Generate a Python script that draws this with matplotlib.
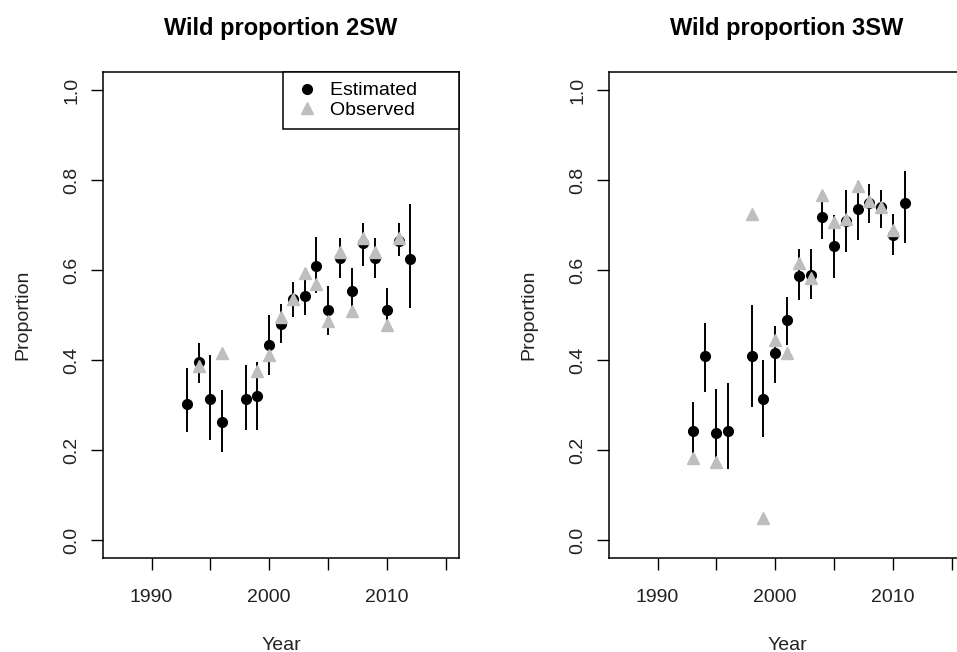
import numpy as np
import matplotlib.pyplot as plt
from matplotlib.lines import Line2D

plt.rcParams['font.family'] = ['Liberation Sans', 'DejaVu Sans']

# Wild proportion 2SW
years_2sw = [1993, 1994, 1995, 1996, 1998, 1999, 2000, 2001, 2002, 2003,
             2004, 2005, 2006, 2007, 2008, 2009, 2010, 2011, 2012]
est_2sw = [0.302, 0.395, 0.313, 0.263, 0.313, 0.319, 0.434, 0.481, 0.535, 0.542,
           0.609, 0.512, 0.627, 0.554, 0.661, 0.626, 0.512, 0.664, 0.624]
lo_2sw = [0.239, 0.349, 0.223, 0.195, 0.245, 0.245, 0.367, 0.438, 0.496, 0.499,
          0.549, 0.455, 0.583, 0.499, 0.610, 0.583, 0.464, 0.631, 0.516]
hi_2sw = [0.382, 0.437, 0.412, 0.334, 0.390, 0.395, 0.499, 0.525, 0.574, 0.601,
          0.674, 0.564, 0.672, 0.604, 0.705, 0.672, 0.560, 0.705, 0.747]
obs_years_2sw = [1994, 1996, 1999, 2000, 2001, 2002, 2003, 2004, 2005, 2006,
                 2007, 2008, 2009, 2010, 2011]
obs_2sw = [0.386, 0.416, 0.375, 0.412, 0.496, 0.535, 0.594, 0.568, 0.486, 0.640,
           0.508, 0.672, 0.639, 0.477, 0.672]

# Wild proportion 3SW
years_3sw = [1993, 1994, 1995, 1996, 1998, 1999, 2000, 2001, 2002, 2003,
             2004, 2005, 2006, 2007, 2008, 2009, 2010, 2011]
est_3sw = [0.243, 0.408, 0.238, 0.243, 0.408, 0.313, 0.416, 0.490, 0.587, 0.590,
           0.718, 0.653, 0.710, 0.735, 0.750, 0.739, 0.677, 0.750]
lo_3sw = [0.193, 0.330, 0.162, 0.157, 0.296, 0.230, 0.350, 0.434, 0.533, 0.536,
          0.670, 0.583, 0.639, 0.667, 0.705, 0.694, 0.633, 0.659]
hi_3sw = [0.306, 0.483, 0.336, 0.349, 0.523, 0.401, 0.475, 0.541, 0.647, 0.647,
          0.768, 0.722, 0.778, 0.798, 0.792, 0.778, 0.725, 0.820]
obs_years_3sw = [1993, 1995, 1998, 1999, 2000, 2001, 2002, 2003, 2004, 2005,
                 2006, 2007, 2008, 2009, 2010]
obs_3sw = [0.182, 0.174, 0.724, 0.048, 0.444, 0.416, 0.615, 0.583, 0.766, 0.707,
           0.713, 0.786, 0.753, 0.741, 0.689]

x_ticks = [1990, 1995, 2000, 2005, 2010, 2015]
x_labels = ["1990", "", "2000", "", "2010", ""]
y_ticks = [0.0, 0.2, 0.4, 0.6, 0.8, 1.0]
y_labels = ["0.0", "0.2", "0.4", "0.6", "0.8", "1.0"]
grey = "#bebebe"

W, H = 957, 652
fig = plt.figure(figsize=(W / 100, H / 100), dpi=100)
ax1 = fig.add_axes([103 / W, 1 - 558 / H, 356 / W, 486 / H])
ax2 = fig.add_axes([609 / W, 1 - 558 / H, 356 / W, 486 / H])


def panel(ax, title, yrs, est, lo, hi, oyrs, obs):
    ax.vlines(yrs, lo, hi, color="black", lw=1.4, zorder=2)
    ax.plot(yrs, est, "o", color="black", ms=7, zorder=3)
    ax.plot(oyrs, obs, "^", color=grey, ms=8, zorder=4)
    ax.set_xlim(1985.88, 2016.12)
    ax.set_ylim(-0.04, 1.04)
    ax.set_xticks(x_ticks)
    ax.set_xticklabels(x_labels)
    ax.set_yticks(y_ticks)
    ax.set_yticklabels(y_labels, rotation=90, va="center")
    ax.tick_params(axis="both", length=8.5, width=1, labelsize=14,
                   labelcolor="#222222")
    ax.tick_params(axis="x", pad=14)
    ax.tick_params(axis="y", pad=8)
    for s in ax.spines.values():
        s.set_linewidth(1.1)
    ax.set_title(title, fontsize=17, fontweight="bold", pad=27)
    ax.set_xlabel("Year", fontsize=14, labelpad=22, color="#222222")
    ax.set_ylabel("Proportion", fontsize=14, labelpad=23, color="#222222")


panel(ax1, "Wild proportion 2SW", years_2sw, est_2sw, lo_2sw, hi_2sw,
      obs_years_2sw, obs_2sw)
panel(ax2, "Wild proportion 3SW", years_3sw, est_3sw, lo_3sw, hi_3sw,
      obs_years_3sw, obs_3sw)

handles = [Line2D([], [], ls="none", marker="o", color="black", ms=7),
           Line2D([], [], ls="none", marker="^", color=grey, ms=8)]
leg = ax1.legend(handles, ["Estimated      ", "Observed      "],
                 loc="upper right", borderaxespad=0, fancybox=False,
                 edgecolor="black", framealpha=1, fontsize=14,
                 handlelength=1.45, handletextpad=0.45, labelspacing=0.12,
                 borderpad=0.5)
leg.get_frame().set_linewidth(1.1)

fig.savefig("out.png", dpi=100)
